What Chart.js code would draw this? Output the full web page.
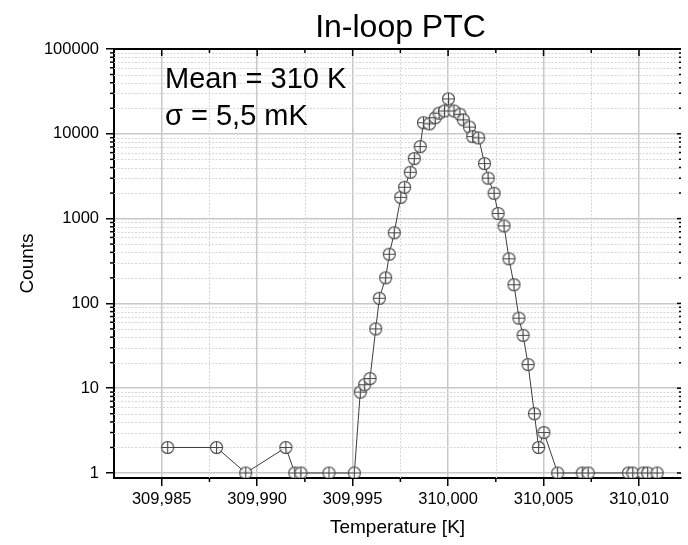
<!DOCTYPE html>
<html>
<head>
<meta charset="utf-8">
<title>In-loop PTC</title>
<script src="https://cdn.jsdelivr.net/npm/chart.js@4.4.1/dist/chart.umd.min.js"></script>
<style>
  html, body { margin: 0; padding: 0; background: #fff; overflow: hidden; }
  #wrap { width: 688px; height: 545px; }
</style>
</head>
<body>
<div id="wrap"><canvas id="ptc" width="688" height="545"></canvas></div>
<script>
// temperature bins (K) and counts
const temperatures = [
  309.98531, 309.98787, 309.98940, 309.99150, 309.99197, 309.99229, 309.99376,
  309.99509, 309.99540, 309.99563, 309.99591, 309.99621, 309.99640, 309.99673,
  309.99692, 309.99718, 309.99752, 309.99772, 309.99802, 309.99823, 309.99854,
  309.99871, 309.99902, 309.99933, 309.99953, 309.99981, 310.00002, 310.00031,
  310.00062, 310.00080, 310.00112, 310.00129, 310.00160, 310.00191, 310.00210,
  310.00241, 310.00262, 310.00293, 310.00319, 310.00345, 310.00371, 310.00393,
  310.00419, 310.00452, 310.00474, 310.00502, 310.00574, 310.00703, 310.00734,
  310.00945, 310.00967, 310.01022, 310.01045, 310.01095
];
const counts = [
  2, 2, 1, 2, 1, 1, 1,
  1, 9, 11, 13, 50, 115, 200,
  380, 680, 1780, 2340, 3520, 5100, 7060,
  13500, 13100, 15500, 17500, 18600, 25800, 18600,
  17000, 14600, 12000, 9270, 8950, 4450, 3000,
  1990, 1150, 820, 336, 166, 67, 42,
  19, 5, 2, 3, 1, 1, 1,
  1, 1, 1, 1, 1
];

const xMajorTicks = [309.985, 309.990, 309.995, 310.000, 310.005, 310.010];
const xTickLabels = ['309,985', '309,990', '309,995', '310,000', '310,005', '310,010'];
const xMinorTicks = [309.9875, 309.9925, 309.9975, 310.0025, 310.0075];
const yMajorTicks = [1, 10, 100, 1000, 10000, 100000];
const yTickLabels = ['1', '10', '100', '1000', '10000', '100000'];

const FONT = '"Liberation Sans", Arial, sans-serif';

// minor log ticks 2..9 in every decade
const yMinorTicks = [];
yMajorTicks.slice(0, -1).forEach(d => {
  for (let k = 2; k <= 9; k++) yMinorTicks.push(k * d);
});

// circle with a cross, like the original symbols
function makeMarker() {
  const c = document.createElement('canvas');
  c.width = 15;
  c.height = 15;
  const g = c.getContext('2d');
  g.fillStyle = 'rgba(255,255,255,0.75)';
  g.strokeStyle = '#474747';
  g.lineWidth = 1.1;
  g.beginPath();
  g.arc(7.5, 7.5, 6, 0, Math.PI * 2);
  g.fill();
  g.stroke();
  g.beginPath();
  g.moveTo(7.5, 1.5); g.lineTo(7.5, 13.5);
  g.moveTo(1.5, 7.5); g.lineTo(13.5, 7.5);
  g.stroke();
  return c;
}

function seg(ctx, x1, y1, x2, y2) {
  ctx.beginPath();
  ctx.moveTo(x1, y1);
  ctx.lineTo(x2, y2);
  ctx.stroke();
}

const framePlugin = {
  id: 'frame',
  beforeDatasetsDraw(chart) {
    const { ctx, chartArea: a, scales: { x, y } } = chart;
    ctx.save();
    ctx.strokeStyle = '#d6d6d6';
    ctx.lineWidth = 1;
    ctx.setLineDash([2, 1.5]);
    xMinorTicks.forEach(v => {
      const px = Math.round(x.getPixelForValue(v)) + 0.5;
      seg(ctx, px, a.top, px, a.bottom);
    });
    yMinorTicks.forEach(v => {
      const py = Math.round(y.getPixelForValue(v)) + 0.5;
      seg(ctx, a.left, py, a.right, py);
    });
    ctx.restore();
  },
  afterDraw(chart) {
    const { ctx, chartArea: a, scales: { x, y } } = chart;
    ctx.save();
    ctx.strokeStyle = '#000';
    ctx.lineWidth = 1.5;

    // minor ticks, outside on bottom/left
    xMinorTicks.forEach(v => {
      const px = x.getPixelForValue(v);
      seg(ctx, px, a.bottom, px, a.bottom + 4);
      seg(ctx, px, a.top, px, a.top + 4);
    });
    yMinorTicks.forEach(v => {
      const py = y.getPixelForValue(v);
      seg(ctx, a.left - 4, py, a.left, py);
      seg(ctx, a.right - 2, py, a.right, py);
    });
    // top axis and right side major ticks point inward
    xMajorTicks.forEach(v => {
      const px = x.getPixelForValue(v);
      seg(ctx, px, a.top, px, a.top + 7);
    });
    yMajorTicks.forEach(v => {
      const py = y.getPixelForValue(v);
      seg(ctx, a.right - 4, py, a.right, py);
    });
    ctx.lineWidth = 2;
    seg(ctx, a.left - 1, a.top, a.right, a.top);

    // title and statistics text
    ctx.fillStyle = '#000';
    ctx.textBaseline = 'alphabetic';
    ctx.textAlign = 'center';
    ctx.font = '32px ' + FONT;
    ctx.fillText('In-loop PTC', (a.left + a.right) / 2 + 3, 37);
    ctx.textAlign = 'left';
    ctx.font = '29px ' + FONT;
    ctx.fillText('Mean = 310 K', 165, 88);
    ctx.fillText('σ = 5,5 mK', 165, 125);
    ctx.restore();
  }
};

const points = temperatures.map((t, i) => ({ x: t, y: counts[i] }));

new Chart(document.getElementById('ptc'), {
  type: 'line',
  data: {
    datasets: [{
      label: 'In-loop PTC',
      data: points,
      borderColor: '#3c3c3c',
      borderWidth: 1,
      tension: 0,
      fill: false,
      pointStyle: makeMarker(),
      pointRadius: 6
    }]
  },
  options: {
    responsive: false,
    animation: false,
    devicePixelRatio: 1,
    layout: { padding: { top: 49, right: 0, bottom: 0, left: 0 } },
    plugins: {
      legend: { display: false },
      tooltip: { enabled: false },
      title: { display: false }
    },
    scales: {
      x: {
        type: 'linear',
        min: 309.9825,
        max: 310.0122,
        afterBuildTicks: scale => {
          scale.ticks = xMajorTicks.map(v => ({ value: v }));
        },
        afterFit: scale => { scale.height = 67; },
        ticks: {
          autoSkip: false,
          maxRotation: 0,
          padding: 4,
          color: '#000',
          font: { family: FONT, size: 16.5 },
          callback: (value, index) => xTickLabels[index]
        },
        grid: {
          color: '#c8c8c8',
          lineWidth: 1.5,
          drawTicks: true,
          tickLength: 8,
          tickColor: '#000',
          tickWidth: 1.5
        },
        border: { display: true, color: '#000', width: 2 },
        title: {
          display: true,
          text: 'Temperature [K]',
          color: '#000',
          font: { family: FONT, size: 19 },
          padding: { top: 0, bottom: 6 }
        }
      },
      y: {
        type: 'logarithmic',
        min: 0.873,
        max: 100000,
        afterBuildTicks: scale => {
          scale.ticks = yMajorTicks.map(v => ({ value: v }));
        },
        afterFit: scale => { scale.width = 114; },
        ticks: {
          padding: 7,
          color: '#000',
          font: { family: FONT, size: 16.5 },
          callback: (value, index) => yTickLabels[index]
        },
        grid: {
          color: '#c8c8c8',
          lineWidth: 1.5,
          drawTicks: true,
          tickLength: 8,
          tickColor: '#000',
          tickWidth: 1.5
        },
        border: { display: true, color: '#000', width: 2 },
        title: {
          display: true,
          text: 'Counts',
          color: '#000',
          font: { family: FONT, size: 19 },
          padding: { top: 16, bottom: 0 }
        }
      }
    }
  },
  plugins: [framePlugin]
});
</script>
</body>
</html>
